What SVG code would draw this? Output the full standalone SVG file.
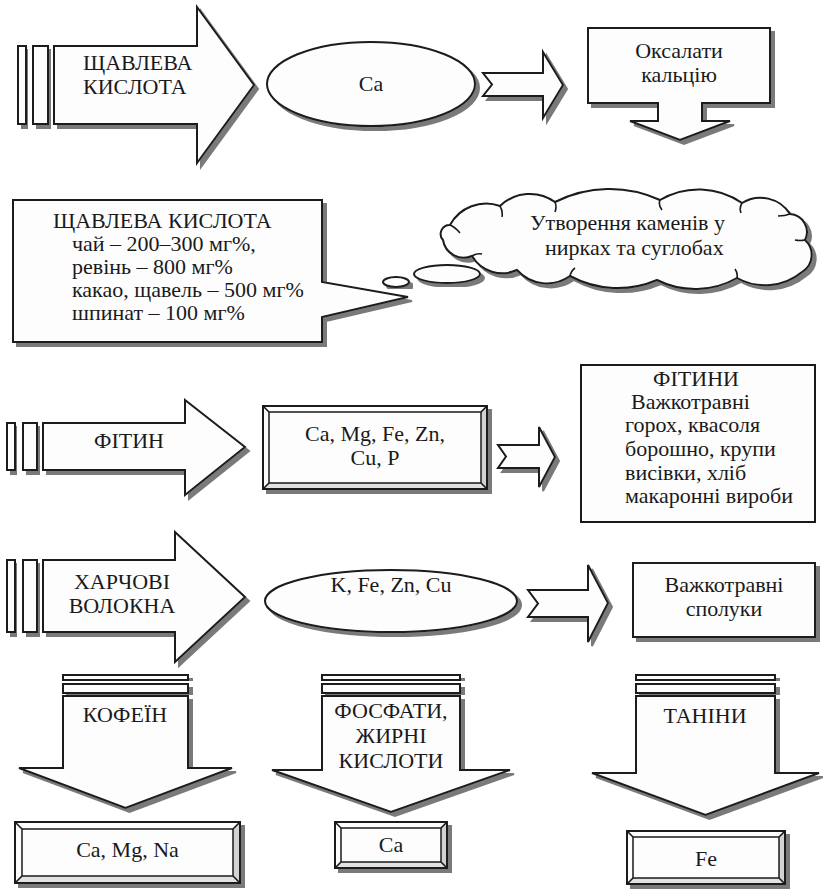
<svg xmlns="http://www.w3.org/2000/svg" width="823" height="890" viewBox="0 0 823 890">
<defs>
<filter id="sh" x="-10%" y="-10%" width="125%" height="130%">
<feDropShadow dx="4" dy="4" stdDeviation="0.6" flood-color="#7a7a7a" flood-opacity="1"/>
</filter>
</defs>
<style>
.s{fill:#fdfdfd;stroke:#1a1a1a;stroke-width:2;stroke-linejoin:miter}
.sh{filter:url(#sh)}
.ln{fill:none;stroke:#1a1a1a;stroke-width:1.6}
.bv1{fill:#e2e2e2;stroke:none}
.bv2{fill:#d2d2d2;stroke:none}
.in{fill:#fdfdfd;stroke:#1a1a1a;stroke-width:1.5}
.t{font-family:"Liberation Serif","Times New Roman",serif;font-size:22px;fill:#1a1a1a}
.m{text-anchor:middle}
</style>
<rect width="823" height="890" fill="#ffffff"/>

<g id="oxalic-arrow">
<rect class="s sh" x="18" y="46" width="8" height="78"/>
<rect class="s sh" x="33" y="46" width="15" height="78"/>
<path class="s sh" d="M54,46 H197 V7 L254,85 L197,163 V124 H54 Z"/>
<text class="t" x="83" y="70">ЩАВЛЕВА</text>
<text class="t" x="83" y="94">КИСЛОТА</text>
</g>

<g id="ca-ellipse">
<ellipse class="s sh" cx="371" cy="84" rx="104" ry="42"/>
<text class="t m" x="371" y="91">Ca</text>
</g>

<g id="oxalates">
<path class="s sh" d="M588,28 H770 V103 H702 V121 H730 L680,140 L630,121 H658 V103 H588 Z"/>
<text class="t m" x="679" y="58">Оксалати</text>
<text class="t m" x="679" y="82">кальцію</text>
</g>

<g id="oxalic-callout">
<path class="s sh" d="M13,200 H322 V282 L408,297 L322,317 V342 H13 Z"/>
<text class="t" x="53" y="228">ЩАВЛЕВА КИСЛОТА</text>
<text class="t" x="72" y="251">чай – 200–300 мг%,</text>
<text class="t" x="72" y="274">ревінь – 800 мг%</text>
<text class="t" x="72" y="297">какао, щавель – 500 мг%</text>
<text class="t" x="72" y="320">шпинат – 100 мг%</text>
</g>

<g id="stones-cloud">
<ellipse class="s sh" cx="396" cy="282" rx="13" ry="5"/>
<ellipse class="s sh" cx="447" cy="274" rx="33" ry="9"/>
<path class="s sh" d="M450,225 A41,41 0 0 1 500,206 A43,43 0 0 1 555,202 A121,121 0 0 1 660,200 A76,76 0 0 1 742,203 A35,35 0 0 1 790,214 A18,18 0 0 1 805,240 A20,20 0 0 1 802,272 A58,58 0 0 1 737,278 A85,85 0 0 1 657,280 A100,100 0 0 1 570,276 A40,40 0 0 1 517,270 A35,35 0 0 1 472,256 A21,21 0 0 1 443,240 A9,9 0 0 1 450,225 Z"/>
<path class="ln" d="M450,225 q5,2 10,8 M500,206 q3,5 2,11 M555,202 q2,5 0,10 M660,200 q-2,5 2,10 M742,203 q-3,5 -1,10 M790,214 q-5,2 -12,2 M805,240 q-5,1 -10,0 M737,278 q1,-5 -2,-9 M570,276 q1,-5 5,-8 M472,256 q5,-3 10,-2"/>
<text class="t" x="530" y="230">Утворення каменів у</text>
<text class="t" x="545" y="255">нирках та суглобах</text>
</g>

<g id="phytin-arrow">
<rect class="s sh" x="7" y="423" width="8" height="47"/>
<rect class="s sh" x="23" y="423" width="14" height="47"/>
<path class="s sh" d="M43,423 H185 V400 L245,447 L185,495 V470 H43 Z"/>
<text class="t m" x="129" y="448">ФІТИН</text>
</g>

<g id="minerals-box">
<rect class="s sh" x="263" y="406" width="224" height="83"/>
<polygon class="bv1" points="264,488 486,488 481,483 269,483"/>
<polygon class="bv2" points="486,407 486,488 481,483 481,412"/>
<rect class="in" x="269" y="412" width="212" height="71"/>
<path class="ln" d="M263,406 L269,412 M487,406 L481,412 M263,489 L269,483 M487,489 L481,483"/>
<text class="t m" x="375" y="441">Ca, Mg, Fe, Zn,</text>
<text class="t m" x="375" y="465">Cu, P</text>
</g>

<g id="phytins-box">
<rect class="s" x="581" y="365" width="234" height="157"/>
<text class="t m" x="696" y="386">ФІТИНИ</text>
<text class="t" x="631" y="409">Важкотравні</text>
<text class="t" x="625" y="432">горох, квасоля</text>
<text class="t" x="625" y="456">борошно, крупи</text>
<text class="t" x="625" y="480">висівки, хліб</text>
<text class="t" x="625" y="503">макаронні вироби</text>
</g>

<g id="fiber-arrow">
<rect class="s sh" x="7" y="560" width="8" height="72"/>
<rect class="s sh" x="23" y="560" width="14" height="72"/>
<path class="s sh" d="M43,560 H175 V532 L245,597 L175,662 V632 H43 Z"/>
<text class="t m" x="122" y="589">ХАРЧОВІ</text>
<text class="t m" x="122" y="613">ВОЛОКНА</text>
</g>

<g id="k-ellipse">
<ellipse class="s sh" cx="391" cy="601" rx="126" ry="31"/>
<text class="t m" x="391" y="592">K, Fe, Zn, Cu</text>
</g>

<g id="indigestible-box">
<rect class="s sh" x="633" y="563" width="182" height="74"/>
<text class="t m" x="724" y="592">Важкотравні</text>
<text class="t m" x="724" y="616">сполуки</text>
</g>

<g id="caffeine-arrow">
<rect class="s sh" x="63" y="675" width="125" height="5"/>
<rect class="s sh" x="63" y="684" width="125" height="9"/>
<path class="s sh" d="M63,696 H188 V768 H232 L125.5,808 L19,768 H63 Z"/>
<text class="t m" x="125" y="722">КОФЕЇН</text>
</g>

<g id="phosphates-arrow">
<rect class="s sh" x="322" y="675" width="138" height="5"/>
<rect class="s sh" x="322" y="684" width="138" height="9"/>
<path class="s sh" d="M322,696 H460 V770 H510 L391,812 L272,770 H322 Z"/>
<text class="t m" x="391" y="718">ФОСФАТИ,</text>
<text class="t m" x="391" y="743">ЖИРНІ</text>
<text class="t m" x="391" y="768">КИСЛОТИ</text>
</g>

<g id="tannins-arrow">
<rect class="s sh" x="636" y="675" width="139" height="5"/>
<rect class="s sh" x="636" y="684" width="139" height="9"/>
<path class="s sh" d="M636,696 H775 V773 H819 L705.5,815 L592,773 H636 Z"/>
<text class="t m" x="705" y="723">ТАНІНИ</text>
</g>

<g id="camgna-box">
<rect class="s sh" x="15" y="822" width="225" height="61"/>
<polygon class="bv1" points="16,882 239,882 233,876 22,876"/>
<polygon class="bv2" points="239,823 239,882 233,876 233,829"/>
<rect class="in" x="22" y="829" width="211" height="47"/>
<path class="ln" d="M15,822 L22,829 M240,822 L233,829 M15,883 L22,876 M240,883 L233,876"/>
<text class="t m" x="127.5" y="857">Ca, Mg, Na</text>
</g>

<g id="ca-box">
<rect class="s sh" x="335" y="822" width="112" height="46"/>
<polygon class="bv1" points="336,867 446,867 441,862 341,862"/>
<polygon class="bv2" points="446,823 446,867 441,862 441,828"/>
<rect class="in" x="341" y="828" width="100" height="34"/>
<path class="ln" d="M335,822 L341,828 M447,822 L441,828 M335,868 L341,862 M447,868 L441,862"/>
<text class="t m" x="391" y="852">Ca</text>
</g>

<g id="fe-box">
<rect class="s sh" x="627" y="831" width="158" height="53"/>
<polygon class="bv1" points="628,883 784,883 779,878 633,878"/>
<polygon class="bv2" points="784,832 784,883 779,878 779,837"/>
<rect class="in" x="633" y="837" width="146" height="41"/>
<path class="ln" d="M627,831 L633,837 M785,831 L779,837 M627,884 L633,878 M785,884 L779,878"/>
<text class="t m" x="706" y="866">Fe</text>
</g>

<g id="connectors">
<path class="s sh" d="M483,73 H543 V52 L563,85 L543,118 V96 H483 L492,84.5 Z"/>
<path class="s sh" d="M498,445 H539 V427 L555,457 L539,487 V468 H498 L506,456.5 Z"/>
<path class="s sh" d="M528,590 H588 V565 L608,603 L588,642 V617 H528 L538,603.5 Z"/>
</g>
</svg>
